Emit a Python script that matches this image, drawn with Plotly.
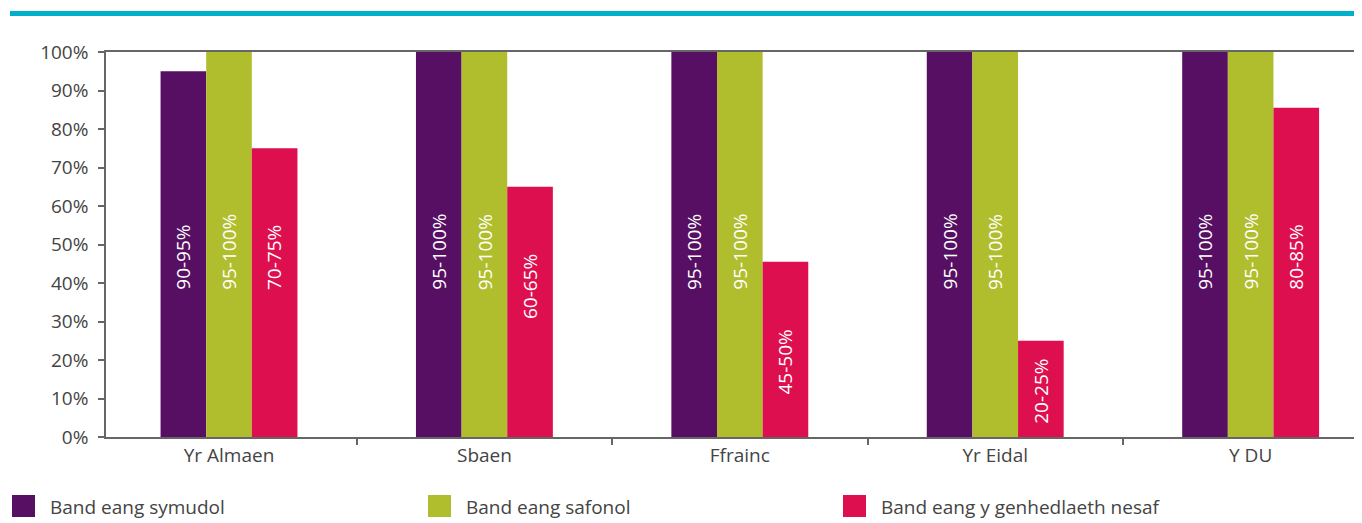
import plotly.graph_objects as go

categories = ["Yr Almaen", "Sbaen", "Ffrainc", "Yr Eidal", "Y DU"]
series_names = ["Band eang symudol", "Band eang safonol", "Band eang y genhedlaeth nesaf"]
symudol = [95, 100, 100, 100, 100]
safonol = [100, 100, 100, 100, 100]
nesaf = [75, 65, 45.5, 25, 85.5]
symudol_labels = ["90-95%", "95-100%", "95-100%", "95-100%", "95-100%"]
safonol_labels = ["95-100%", "95-100%", "95-100%", "95-100%", "95-100%"]
nesaf_labels = ["70-75%", "60-65%", "45-50%", "20-25%", "80-85%"]
y_ticks = [0, 10, 20, 30, 40, 50, 60, 70, 80, 90, 100]

COLORS = ["#560F63", "#B0BE2E", "#DD0F4F"]
FONT = "Open Sans, Lato, sans-serif"
TEXT = "#444444"
AXIS = "#666666"

# the page body has an 8px margin, so the figure is drawn 8px in
OFF = 8
WIN_W, WIN_H = 1362, 523
W_PX, H_PX = WIN_W - OFF, WIN_H - OFF
# plot area in window pixels
L, R, T, B = 106, 1362, 52, 437
GAP = 0.464  # bargap -> groups of three touching bars


def px_x(px):
    return (px - L) / (R - L)


def px_y(py):
    return (B - py) / (B - T)


fig = go.Figure()
all_values = [symudol, safonol, nesaf]
all_labels = [symudol_labels, safonol_labels, nesaf_labels]
for name, vals, color in zip(series_names, all_values, COLORS):
    fig.add_trace(go.Bar(x=categories, y=vals, name=name,
                         marker=dict(color=color, line=dict(width=0)),
                         hoverinfo="x+y"))

# rotated labels inside the bars
bar_w = (1 - GAP) / 3
for k, (vals, labs) in enumerate(zip(all_values, all_labels)):
    for i, (v, lab) in enumerate(zip(vals, labs)):
        base = min(37.7, max(3, v - 35))
        fig.add_annotation(x=i + (k - 1) * bar_w, y=base, xref="x", yref="y",
                           text=lab, textangle=-90, showarrow=False,
                           xanchor="center", yanchor="bottom",
                           font=dict(family=FONT, size=19, color="white"))

# legend drawn by hand (big square swatches)
leg_x = [12, 428, 843]
for name, color, lx in zip(series_names, COLORS, leg_x):
    fig.add_shape(type="rect", xref="paper", yref="paper",
                  x0=px_x(lx), x1=px_x(lx + 23), y0=px_y(517), y1=px_y(495),
                  fillcolor=color, line=dict(width=0))
    fig.add_annotation(x=px_x(lx + 36), y=px_y(507), xref="paper", yref="paper",
                       text=name, showarrow=False, xanchor="left", yanchor="middle",
                       font=dict(family=FONT, size=19, color=TEXT))

# teal rule at the top
fig.add_shape(type="line", xref="paper", yref="paper",
              x0=px_x(10), x1=px_x(1362), y0=px_y(13.5), y1=px_y(13.5),
              line=dict(color="#00B0C8", width=5))

fig.update_layout(
    width=W_PX, height=H_PX,
    margin=dict(l=L - OFF, r=WIN_W - R, t=T - OFF, b=WIN_H - B, pad=0),
    paper_bgcolor="white", plot_bgcolor="white",
    barmode="group", bargap=GAP, bargroupgap=0,
    showlegend=False,
    font=dict(family=FONT, size=19, color=TEXT),
    xaxis=dict(type="category", range=[-0.4816, 4.436], tickson="boundaries",
               ticks="outside", ticklen=6, tickcolor=AXIS, tickwidth=1.5,
               showline=True, linecolor=AXIS, linewidth=2, mirror=True,
               showgrid=False, tickfont=dict(size=19, color=TEXT)),
    yaxis=dict(range=[0, 100], tickvals=y_ticks,
               ticktext=[f"{v}%" for v in y_ticks],
               ticks="outside", ticklen=6, tickcolor=AXIS, tickwidth=1.5,
               showline=True, linecolor=AXIS, linewidth=1.5,
               showgrid=False, zeroline=False, ticklabelstandoff=6,
               tickfont=dict(size=19, color=TEXT)),
)

fig.write_html("out.html")
